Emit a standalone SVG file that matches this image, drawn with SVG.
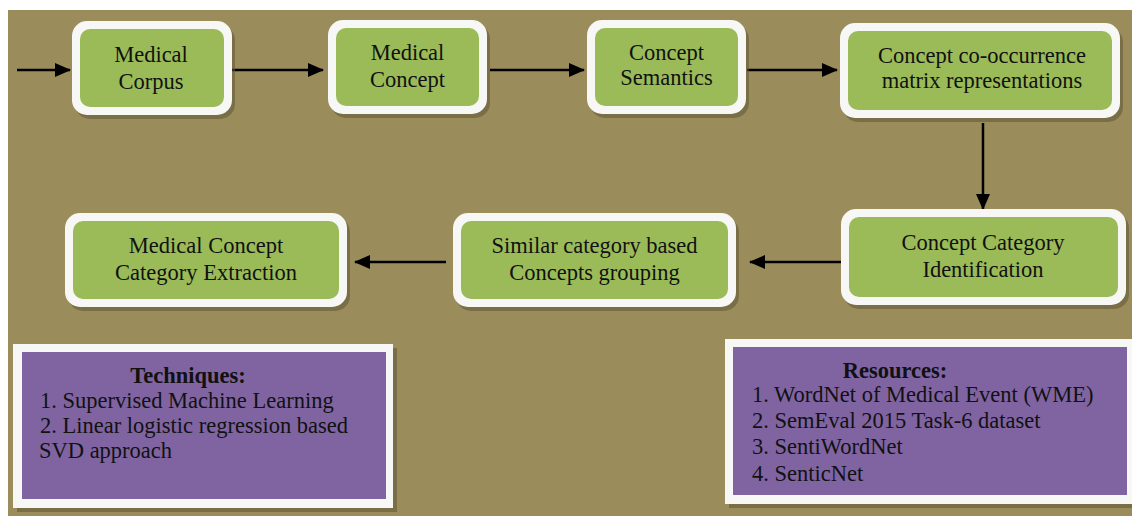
<svg xmlns="http://www.w3.org/2000/svg" width="1132" height="516" viewBox="0 0 1132 516">
<style>
.sh{fill:#5f5636;opacity:0.55}
.ow{fill:#f7f7f5}
.gn{fill:#9bbb59}
.pp{fill:#8064a2}
text{font-family:'Liberation Serif','DejaVu Serif',serif;font-size:22.5px;fill:#111}
.t{text-anchor:middle}
.b{font-weight:bold}
.c{stroke:#000;stroke-width:2.5;fill:none;marker-end:url(#ah)}
</style>
<defs>
<marker id="ah" markerWidth="16" markerHeight="14" refX="15" refY="7" orient="auto" markerUnits="userSpaceOnUse">
<path d="M0,0 L16,7 L0,14 Z" fill="#000"/>
</marker>
</defs>
<rect x="0" y="0" width="1132" height="516" fill="#ffffff"/>
<rect x="8" y="10" width="1124" height="506" fill="#9b8d5b"/>

<g id="connectors">
<line class="c" x1="17" y1="70" x2="70" y2="70"/>
<line class="c" x1="232" y1="70" x2="323" y2="70"/>
<line class="c" x1="490" y1="70" x2="584" y2="70"/>
<line class="c" x1="747" y1="70" x2="837" y2="70"/>
<line class="c" x1="983" y1="123" x2="983" y2="209"/>
<line class="c" x1="841" y1="262" x2="750" y2="262"/>
<line class="c" x1="446" y1="262" x2="355" y2="262"/>
</g>

<g id="n1">
<rect class="sh" x="75" y="25" width="160" height="94" rx="15"/>
<rect class="ow" x="72" y="21" width="160" height="94" rx="15"/>
<rect class="gn" x="80" y="29" width="144" height="78" rx="10"/>
<text class="t" x="151" y="62">Medical</text>
<text class="t" x="151" y="89">Corpus</text>
</g>

<g id="n2">
<rect class="sh" x="331" y="24" width="159" height="94" rx="15"/>
<rect class="ow" x="328" y="20" width="159" height="94" rx="15"/>
<rect class="gn" x="336" y="28" width="143" height="78" rx="10"/>
<text class="t" x="407.5" y="60">Medical</text>
<text class="t" x="407.5" y="87">Concept</text>
</g>

<g id="n3">
<rect class="sh" x="590" y="24" width="159" height="94" rx="15"/>
<rect class="ow" x="587" y="20" width="159" height="94" rx="15"/>
<rect class="gn" x="595" y="28" width="143" height="78" rx="10"/>
<text class="t" x="666.5" y="60">Concept</text>
<text class="t" x="666.5" y="85">Semantics</text>
</g>

<g id="n4">
<rect class="sh" x="843" y="27" width="280" height="95" rx="15"/>
<rect class="ow" x="840" y="23" width="280" height="95" rx="15"/>
<rect class="gn" x="848" y="31" width="264" height="79" rx="10"/>
<text class="t" x="982" y="63">Concept co-occurrence</text>
<text class="t" x="982" y="88">matrix representations</text>
</g>

<g id="n5">
<rect class="sh" x="844" y="213" width="285" height="96" rx="15"/>
<rect class="ow" x="841" y="209" width="285" height="96" rx="15"/>
<rect class="gn" x="849" y="217" width="269" height="80" rx="10"/>
<text class="t" x="983" y="250">Concept Category</text>
<text class="t" x="983" y="277">Identification</text>
</g>

<g id="n6">
<rect class="sh" x="456" y="217" width="283" height="94" rx="15"/>
<rect class="ow" x="453" y="213" width="283" height="94" rx="15"/>
<rect class="gn" x="461" y="221" width="267" height="78" rx="10"/>
<text class="t" x="594.5" y="253">Similar category based</text>
<text class="t" x="594.5" y="280">Concepts grouping</text>
</g>

<g id="n7">
<rect class="sh" x="68" y="217" width="282" height="94" rx="15"/>
<rect class="ow" x="65" y="213" width="282" height="94" rx="15"/>
<rect class="gn" x="73" y="221" width="266" height="78" rx="10"/>
<text class="t" x="206" y="253">Medical Concept</text>
<text class="t" x="206" y="280">Category Extraction</text>
</g>

<g id="techniques">
<rect class="sh" x="17" y="348" width="380" height="164"/>
<rect class="ow" x="13" y="344" width="380" height="164"/>
<rect class="pp" x="22" y="352" width="364" height="147"/>
<text class="t b" x="188" y="383">Techniques:</text>
<text x="40" y="408">1. Supervised Machine Learning</text>
<text x="40" y="433">2. Linear logistic regression based</text>
<text x="39" y="458">SVD approach</text>
</g>

<g id="resources">
<rect class="sh" x="729" y="343" width="410" height="165"/>
<rect class="ow" x="725" y="339" width="410" height="165"/>
<rect class="pp" x="733" y="347" width="394" height="148"/>
<text class="t b" x="895" y="378">Resources:</text>
<text x="752" y="402">1. WordNet of Medical Event (WME)</text>
<text x="752" y="428">2. SemEval 2015 Task-6 dataset</text>
<text x="752" y="454">3. SentiWordNet</text>
<text x="752" y="481">4. SenticNet</text>
</g>
</svg>
